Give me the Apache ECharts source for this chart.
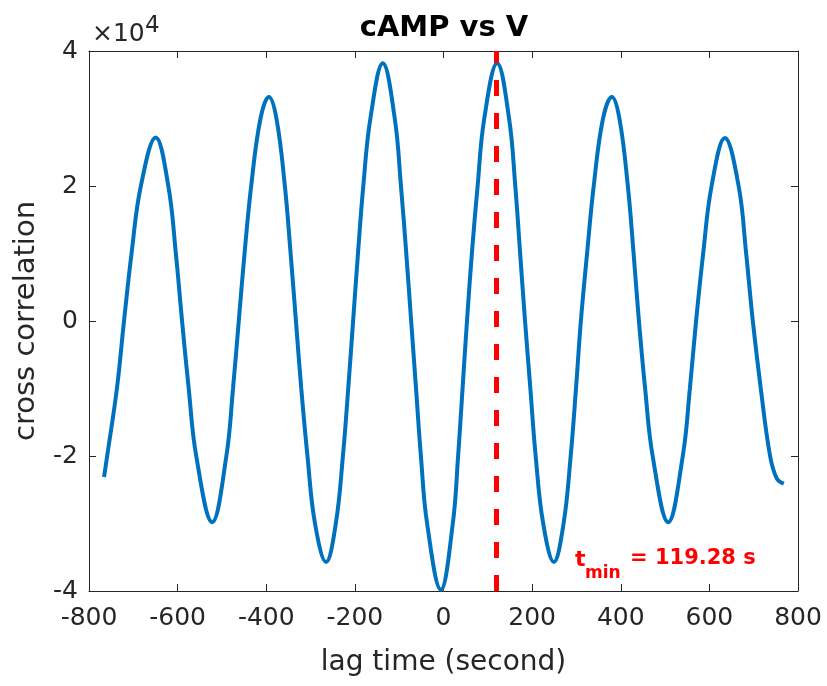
<!DOCTYPE html>
<html>
<head>
<meta charset="utf-8">
<script src="https://cdn.jsdelivr.net/npm/echarts@6.0.0/dist/echarts.min.js"></script>
<style>
  html, body { margin: 0; padding: 0; background: #fff; }
  #chart { width: 827px; height: 686px; }
</style>
</head>
<body>
<div id="chart"></div>
<script>
// lag time (s) and cross correlation (x1e4)
const lagTime = [
  -766, -759, -737, -721, -704, -683, -649.5, -621, -604, -590,
  -575, -558, -522, -490, -475, -462, -449, -434, -413, -394,
  -377, -358, -345, -333, -321, -307, -290, -265, -243, -227,
  -215, -204, -193, -181, -165, -137, -110, -96, -84, -73,
  -62, -51, -37, -6, 21, 33, 43, 53, 64, 77,
  92, 121, 148, 162, 173, 184, 196, 208, 225, 249,
  271, 287, 299, 310, 324, 339, 360, 380, 397, 416,
  429, 441, 455, 472, 507, 540, 556, 570, 586, 605,
  635, 666, 683, 698, 716, 737, 752, 768
];
const crossCorr = [
  -2.31, -2, -1, 0, 1, 2, 2.72, 2, 1, 0,
  -1, -2, -2.98, -2, -1, 0, 1, 2, 3, 3.32,
  3, 2, 1, 0, -1, -2, -3, -3.57, -3, -2,
  -1, 0, 1, 2, 3, 3.82, 3, 2, 1, 0,
  -1, -2, -3, -3.98, -3, -2, -1, 0, 1, 2,
  3, 3.82, 3, 2, 1, 0, -1, -2, -3, -3.57,
  -3, -2, -1, 0, 1, 2, 3, 3.32, 3, 2,
  1, 0, -1, -2, -2.98, -2, -1, 0, 1, 2,
  2.71, 2, 1, 0, -1, -2, -2.33, -2.41
];
const tMin = 119.28;
const xTicks = { min: -800, max: 800, step: 200 };
const yTicks = { min: -4, max: 4, step: 2 };

const FONT = 'DejaVu Sans';
const INK = '#262626';

const chart = echarts.init(document.getElementById('chart'), null, { renderer: 'canvas' });

const frameAxis = {
  axisLine: { show: true, onZero: false, lineStyle: { color: INK, width: 1 } },
  axisTick: { show: true, inside: true, length: 7, lineStyle: { color: INK } },
  splitLine: { show: false }
};

chart.setOption({
  animation: false,
  backgroundColor: '#ffffff',
  grid: { left: 89, right: 29, top: 51, bottom: 95 },
  xAxis: [
    {
      ...frameAxis,
      type: 'value',
      position: 'bottom',
      min: xTicks.min,
      max: xTicks.max,
      interval: xTicks.step,
      axisLabel: { color: INK, fontFamily: FONT, fontSize: 25, margin: 15 },
      name: 'lag time (second)',
      nameLocation: 'middle',
      nameGap: 58,
      nameTextStyle: { color: INK, fontFamily: FONT, fontSize: 28 }
    },
    {
      ...frameAxis,
      type: 'value',
      position: 'top',
      min: xTicks.min,
      max: xTicks.max,
      interval: xTicks.step,
      axisLabel: { show: false }
    }
  ],
  yAxis: [
    {
      ...frameAxis,
      type: 'value',
      position: 'left',
      min: yTicks.min,
      max: yTicks.max,
      interval: yTicks.step,
      axisLabel: { color: INK, fontFamily: FONT, fontSize: 25, margin: 11 },
      name: 'cross correlation',
      nameLocation: 'middle',
      nameGap: 48,
      nameTextStyle: { color: INK, fontFamily: FONT, fontSize: 29 }
    },
    {
      ...frameAxis,
      type: 'value',
      position: 'right',
      min: yTicks.min,
      max: yTicks.max,
      interval: yTicks.step,
      axisLabel: { show: false }
    }
  ],
  graphic: [
    {
      type: 'text', position: [444, 28],
      style: {
        text: 'cAMP vs V', align: 'center', verticalAlign: 'middle',
        fill: '#000', font: 'bold 29px "DejaVu Sans"'
      }
    },
    {
      type: 'text', position: [92, 34],
      style: { text: '×10', align: 'left', verticalAlign: 'middle', fill: INK, font: '25px "DejaVu Sans"' }
    },
    {
      type: 'text', position: [145, 26],
      style: { text: '4', align: 'left', verticalAlign: 'middle', fill: INK, font: '23px "DejaVu Sans"' }
    },
    {
      type: 'text', position: [575, 560],
      style: { text: 't', align: 'left', verticalAlign: 'middle', fill: '#ff0000', font: 'bold 22px "DejaVu Sans"' }
    },
    {
      type: 'text', position: [585, 574],
      style: { text: 'min', align: 'left', verticalAlign: 'middle', fill: '#ff0000', font: 'bold 17px "DejaVu Sans"' }
    },
    {
      type: 'text', position: [630, 559],
      style: { text: '= ' + tMin.toFixed(2) + ' s', align: 'left', verticalAlign: 'middle', fill: '#ff0000', font: 'bold 21px "DejaVu Sans"' }
    }
  ],
  series: [
    {
      name: 'cross correlation',
      type: 'line',
      xAxisIndex: 0,
      yAxisIndex: 0,
      data: lagTime.map((t, i) => [t, crossCorr[i]]),
      showSymbol: false,
      smooth: 0.4,
      lineStyle: { color: '#0072BD', width: 4 },
      markLine: {
        silent: true,
        symbol: ['none', 'none'],
        label: { show: false },
        lineStyle: { color: '#ff0000', width: 5, type: [16, 17] },
        data: [{ xAxis: tMin }]
      }
    }
  ]
});
</script>
</body>
</html>
